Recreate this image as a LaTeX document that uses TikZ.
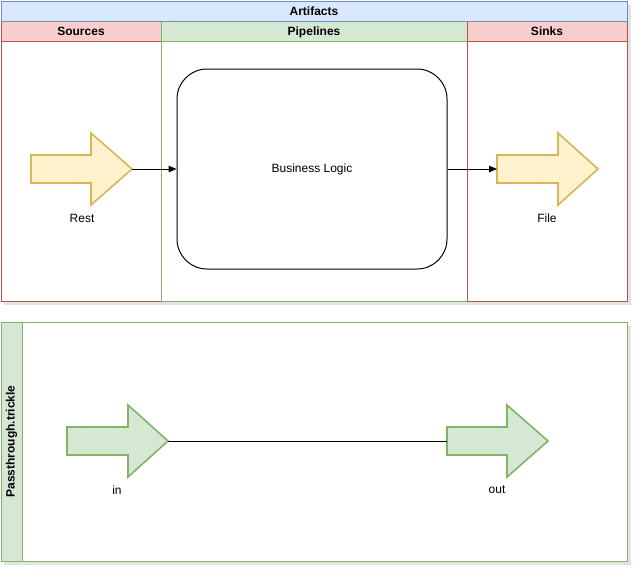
\documentclass[tikz,border=0pt]{standalone}
\usepackage{fontspec}
\setmainfont{Liberation Sans}
\usetikzlibrary{arrows.meta}
\definecolor{bluefill}{HTML}{DAE8FC}
\definecolor{bluestroke}{HTML}{6C8EBF}
\definecolor{redfill}{HTML}{F8CECC}
\definecolor{redstroke}{HTML}{B85450}
\definecolor{greenfill}{HTML}{D5E8D4}
\definecolor{greenstroke}{HTML}{82B366}
\definecolor{yellowfill}{HTML}{FFF2CC}
\definecolor{yellowstroke}{HTML}{D6B656}
\definecolor{shadowc}{HTML}{E2E2E8}
\tikzset{
  box/.style={rectangle, inner sep=0pt, line width=1pt},
  hdr/.style={box, font=\fontsize{12}{14}\selectfont\bfseries},
  hdrtext/.style={text height=9pt, text depth=0.5pt},
  lbl/.style={inner sep=0pt, font=\fontsize{12}{14}\selectfont},
  yarrow/.style={draw=yellowstroke, fill=yellowfill, line width=1.6pt, line join=miter},
  garrow/.style={draw=greenstroke, fill=greenfill, line width=1.6pt, line join=miter},
  conn/.style={line width=1pt, -{Triangle[length=8pt,width=6.5pt]}},
  plainconn/.style={line width=1pt},
}
\begin{document}
\begin{tikzpicture}[x=1pt,y=-1pt]
\useasboundingbox (0,0) rectangle (640,574);
% shadows
\fill[shadowc] (4,5) rectangle (631,305);
\fill[shadowc] (4,326) rectangle (631,565);
% top container lanes
\node[box, draw=redstroke, fill=white, minimum width=160pt, minimum height=260pt] (srclane) at (81,171) {};
\node[box, draw=greenstroke, fill=white, minimum width=306pt, minimum height=260pt] (pipelane) at (314,171) {};
\node[box, draw=redstroke, fill=white, minimum width=160pt, minimum height=260pt] (sinklane) at (547,171) {};
% headers
\node[hdr, hdrtext, draw=redstroke, fill=redfill, minimum width=160pt, minimum height=20pt] (srchdr) at (81,31) {Sources};
\node[hdr, hdrtext, draw=greenstroke, fill=greenfill, minimum width=306pt, minimum height=20pt] (pipehdr) at (314,31) {Pipelines};
\node[hdr, hdrtext, draw=redstroke, fill=redfill, minimum width=160pt, minimum height=20pt] (sinkhdr) at (547,31) {Sinks};
\node[hdr, hdrtext, draw=bluestroke, fill=bluefill, minimum width=626pt, minimum height=20pt] (artifacts) at (314,11) {Artifacts};
% business logic
\node[box, draw=black, fill=white, rounded corners=30pt, minimum width=270pt, minimum height=200pt, font=\fontsize{12}{14}\selectfont] (bl) at (312,169) {Business Logic};
% Rest arrow
\draw[yarrow] (31,155) -- (91,155) -- (91,133) -- (132,169) -- (91,205) -- (91,183) -- (31,183) -- cycle;
\coordinate (resttip) at (132,169);
\node[lbl] (restlbl) at (82,218) {Rest};
% File arrow
\draw[yarrow] (497,155) -- (558,155) -- (558,133) -- (598,169) -- (558,205) -- (558,183) -- (497,183) -- cycle;
\coordinate (filetail) at (497,169);
\node[lbl] (filelbl) at (547,218) {File};
% connectors
\draw[conn] (resttip) -- (bl.west);
\draw[conn] (bl.east) -- (filetail);
% bottom container
\node[box, draw=greenstroke, fill=white, minimum width=626pt, minimum height=239pt] (pass) at (314,441.5) {};
\node[hdr, draw=greenstroke, fill=greenfill, minimum width=21pt, minimum height=239pt] (passhdr) at (11.5,441.5) {};
\node[hdr, rotate=90] (passlbl) at (11.5,441.5) {Passthrough.trickle};
% in arrow
\draw[garrow] (67,427) -- (128,427) -- (128,405) -- (168,441) -- (128,477) -- (128,455) -- (67,455) -- cycle;
\coordinate (intip) at (168,441);
\node[lbl] (inlbl) at (117,490) {in};
% out arrow
\draw[garrow] (447,427) -- (507,427) -- (507,405) -- (548,441) -- (507,477) -- (507,455) -- (447,455) -- cycle;
\coordinate (outtail) at (447,441);
\node[lbl] (outlbl) at (497,490) {out};
\draw[plainconn] (intip) -- (outtail);
\end{tikzpicture}
\end{document}
